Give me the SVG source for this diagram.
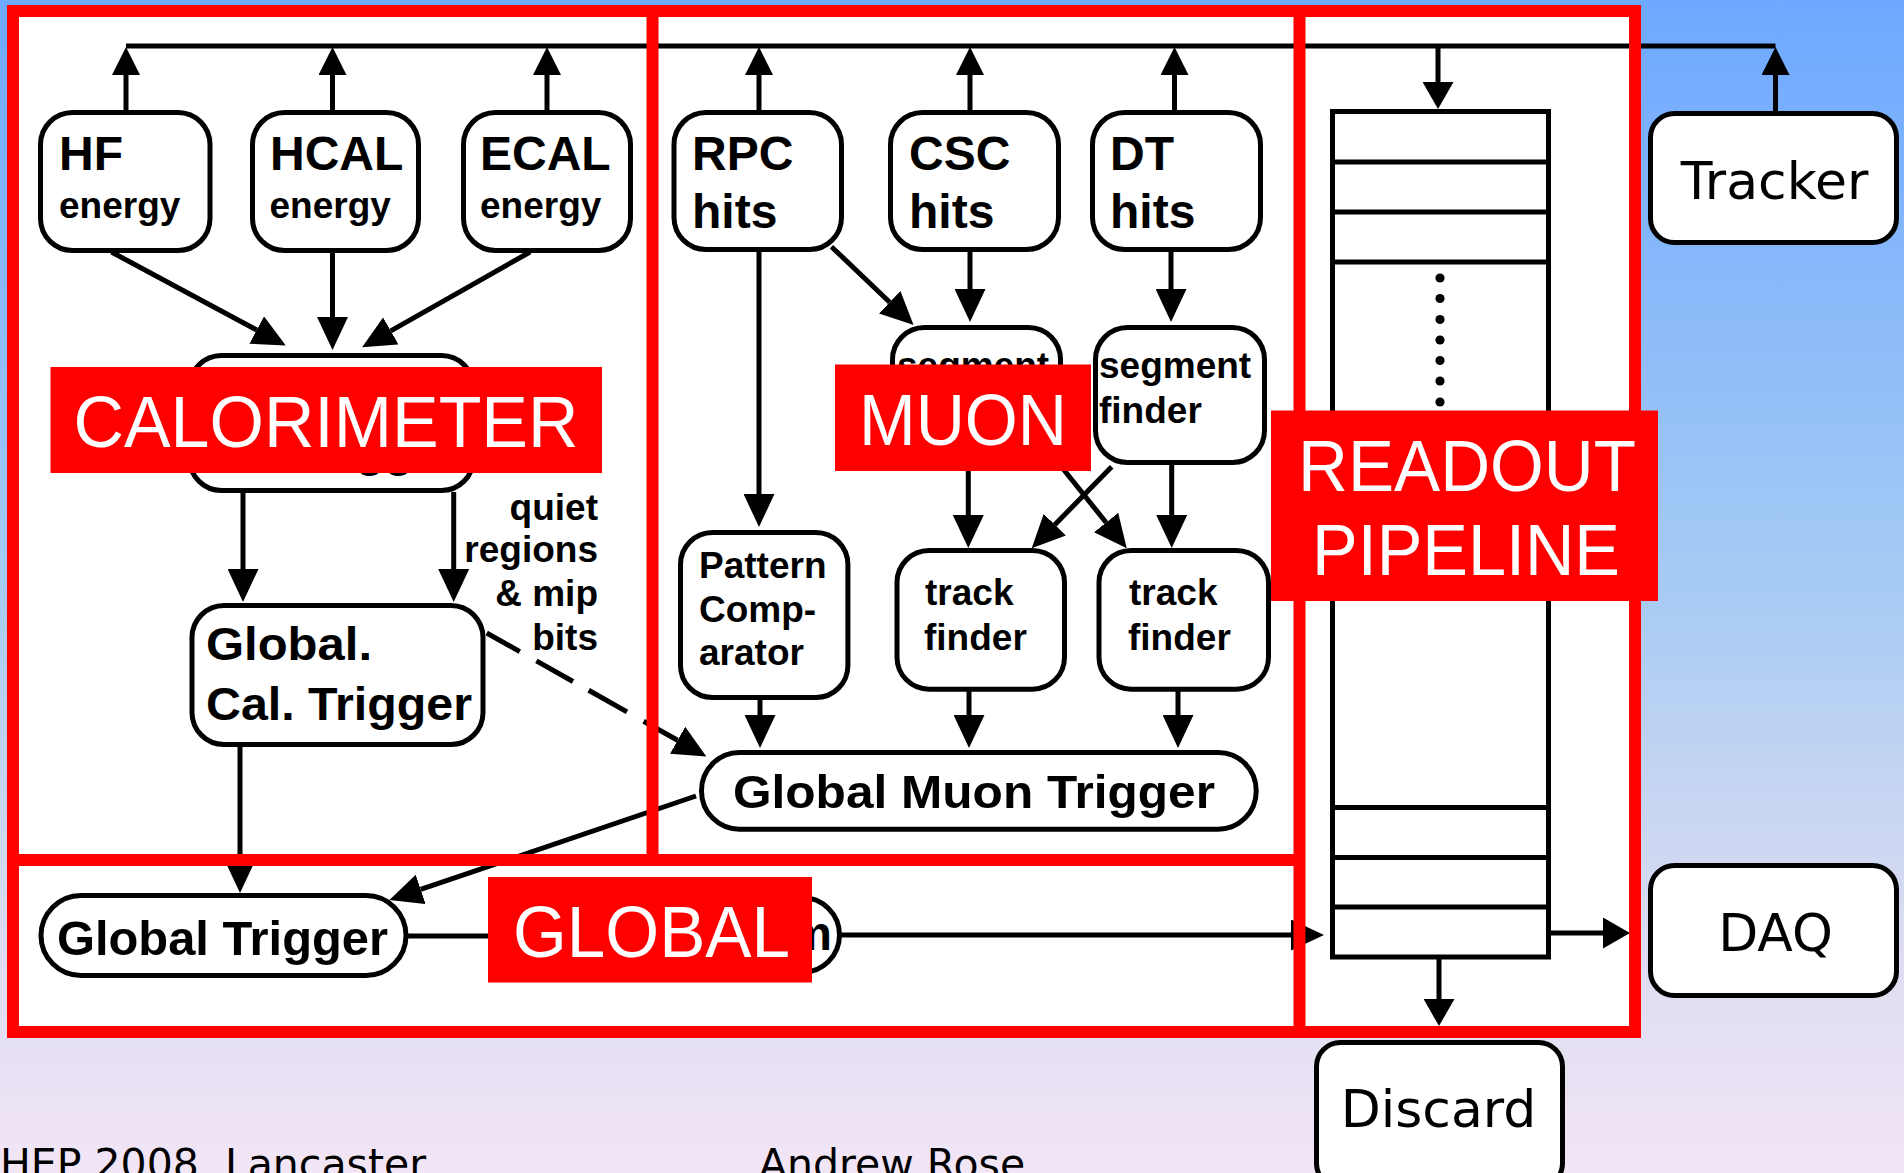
<svg xmlns="http://www.w3.org/2000/svg" width="1904" height="1173" viewBox="0 0 1904 1173">
<defs>
<linearGradient id="bg" x1="0" y1="0" x2="0" y2="1">
<stop offset="0" stop-color="#6ea8ff"/>
<stop offset="0.5" stop-color="#a6cbf4"/>
<stop offset="0.8" stop-color="#dcdcf1"/>
<stop offset="1" stop-color="#f2e5f6"/>
</linearGradient>
<marker id="ah" viewBox="0 0 33 31" refX="0" refY="15.5" markerWidth="33" markerHeight="31" markerUnits="userSpaceOnUse" orient="auto"><path d="M0,0 L33,15.5 L0,31 z" fill="#000"/></marker>
<marker id="ahs" viewBox="0 0 28 28" refX="0" refY="14" markerWidth="28" markerHeight="28" markerUnits="userSpaceOnUse" orient="auto"><path d="M0,0 L28,14 L0,28 z" fill="#000"/></marker>
<marker id="ahr" viewBox="0 0 27 31" refX="0" refY="15.5" markerWidth="27" markerHeight="31" markerUnits="userSpaceOnUse" orient="auto"><path d="M0,0 L27,15.5 L0,31 z" fill="#000"/></marker>
</defs>
<style>
.nd rect{fill:#fff;stroke:#000;stroke-width:5}
.t{font-family:"Liberation Sans",Arial,sans-serif;font-weight:bold;fill:#000}
.b{font-size:48px}
.s{font-size:37px}
.d{font-family:"DejaVu Sans",Verdana,sans-serif;font-size:52px;fill:#000;text-anchor:middle}
#connectors path{stroke:#000;stroke-width:5;fill:none}
.fr{stroke:#ff0000;stroke-width:12;fill:none}
.lb rect{fill:#ff0000}
.lb text{fill:#fff;font-family:"Liberation Sans",Arial,sans-serif;font-size:72px;text-anchor:middle}
.ft{font-family:"DejaVu Sans",Verdana,sans-serif;font-size:41px;fill:#000}
</style>
<rect width="1904" height="1173" fill="url(#bg)"/>
<rect x="13" y="11" width="1622" height="1021" fill="#fff"/>

<g id="connectors">
<path d="M126,46 H1775.5"/>
<path d="M126,112 V75" marker-end="url(#ahs)"/>
<path d="M332.5,112 V75" marker-end="url(#ahs)"/>
<path d="M547,112 V75" marker-end="url(#ahs)"/>
<path d="M759,112 V75" marker-end="url(#ahs)"/>
<path d="M970,112 V75" marker-end="url(#ahs)"/>
<path d="M1174.5,112 V75" marker-end="url(#ahs)"/>
<path d="M1775.5,113 V75" marker-end="url(#ahs)"/>
<path d="M1438,46 V82" marker-end="url(#ahr)"/>
<path d="M111.5,252 L256.7,330" marker-end="url(#ah)"/>
<path d="M332.5,252 V317" marker-end="url(#ah)"/>
<path d="M530,252 L390.8,330.9" marker-end="url(#ah)"/>
<path d="M243,492 V569" marker-end="url(#ah)"/>
<path d="M453.7,492 V569" marker-end="url(#ah)"/>
<path d="M486.7,633 L519.8,651.6 M536.4,660.9 L573,681.5 M588.7,690.3 L627,711.9 M643.6,721.2 L677.6,740.3" marker-end="url(#ah)"/>
<path d="M240,746 V860" marker-end="url(#ah)"/>
<path d="M696,796 L420.7,889.4" marker-end="url(#ah)"/>
<path d="M759,250 V494" marker-end="url(#ah)"/>
<path d="M831.5,246.7 L889.7,302.2" marker-end="url(#ah)"/>
<path d="M970,250 V289" marker-end="url(#ah)"/>
<path d="M1171,250 V289" marker-end="url(#ah)"/>
<path d="M968.3,463 V515" marker-end="url(#ah)"/>
<path d="M1171.7,463 V515" marker-end="url(#ah)"/>
<path d="M1111.7,466.7 L1054.8,524.7" marker-end="url(#ah)"/>
<path d="M1060,465 L1106.1,522.5" marker-end="url(#ah)"/>
<path d="M760,698 V715" marker-end="url(#ah)"/>
<path d="M969,690 V715" marker-end="url(#ah)"/>
<path d="M1178,690 V715" marker-end="url(#ah)"/>
<path d="M406,936 H520"/>
<path d="M840,935 H1291" marker-end="url(#ah)"/>
<path d="M1551,933 H1603" marker-end="url(#ahr)"/>
<path d="M1439,959 V999" marker-end="url(#ahr)"/>
</g>

<g id="hf" class="nd"><rect x="40.5" y="112.5" width="169.5" height="138" rx="32"/><text class="t b" x="59" y="170">HF</text><text class="t s" x="59" y="218">energy</text></g>
<g id="hcal" class="nd"><rect x="252.5" y="112.5" width="166" height="138" rx="32"/><text class="t b" x="270" y="170">HCAL</text><text class="t s" x="269.5" y="218">energy</text></g>
<g id="ecal" class="nd"><rect x="463.5" y="112.5" width="167" height="138" rx="32"/><text class="t b" x="480" y="170">ECAL</text><text class="t s" x="480" y="218">energy</text></g>
<g id="rpc" class="nd"><rect x="674" y="112.5" width="167.5" height="137" rx="32"/><text class="t b" x="692" y="170">RPC</text><text class="t b" x="692" y="228">hits</text></g>
<g id="csc" class="nd"><rect x="890.5" y="112.5" width="168" height="137" rx="32"/><text class="t b" x="909" y="170">CSC</text><text class="t b" x="909" y="228">hits</text></g>
<g id="dt" class="nd"><rect x="1092.5" y="112.5" width="168" height="137" rx="32"/><text class="t b" x="1110" y="170">DT</text><text class="t b" x="1110" y="228">hits</text></g>
<g id="rct" class="nd"><rect x="189.5" y="355.5" width="284" height="135" rx="32"/><text class="t" font-size="47" x="199" y="466">Cal. Trigger</text></g>
<g id="sf1" class="nd"><rect x="892.5" y="327.5" width="168" height="135" rx="32"/><text class="t s" x="897" y="378">segment</text></g>
<g id="sf2" class="nd"><rect x="1095.5" y="327.5" width="169" height="135" rx="32"/><text class="t s" x="1099" y="378">segment</text><text class="t s" x="1099" y="423">finder</text></g>
<g id="pc" class="nd"><rect x="680.5" y="532.5" width="167.4" height="165" rx="32"/><text class="t s" x="699" y="578">Pattern</text><text class="t s" x="699" y="622">Comp-</text><text class="t s" x="699" y="665">arator</text></g>
<g id="tf1" class="nd"><rect x="897" y="550.5" width="167.5" height="138.7" rx="32"/><text class="t s" x="925" y="605">track</text><text class="t s" x="924" y="650">finder</text></g>
<g id="tf2" class="nd"><rect x="1099" y="550.5" width="169.5" height="138.7" rx="32"/><text class="t s" x="1129" y="605">track</text><text class="t s" x="1128" y="650">finder</text></g>
<g id="gct" class="nd"><rect x="192" y="605.5" width="291" height="139" rx="32"/><text class="t" font-size="47" x="206" y="660" textLength="166" lengthAdjust="spacingAndGlyphs">Global.</text><text class="t" font-size="47" x="206" y="720" textLength="266" lengthAdjust="spacingAndGlyphs">Cal. Trigger</text></g>
<g id="quiet"><text class="t s" text-anchor="end" x="598" y="520">quiet</text><text class="t s" text-anchor="end" x="598" y="562">regions</text><text class="t s" text-anchor="end" x="598" y="606">&amp; mip</text><text class="t s" text-anchor="end" x="598" y="650">bits</text></g>
<g id="gmt" class="nd"><rect x="701.5" y="752.5" width="554.7" height="76.7" rx="38"/><text class="t" font-size="47" x="733" y="808" textLength="482" lengthAdjust="spacingAndGlyphs">Global Muon Trigger</text></g>
<g id="gt" class="nd"><rect x="41" y="895.5" width="365" height="80" rx="40"/><text class="t b" x="57" y="955" textLength="331" lengthAdjust="spacingAndGlyphs">Global Trigger</text></g>
<g id="ttc" class="nd"><rect x="517.5" y="897.5" width="322" height="75" rx="37.5"/><text class="t b" text-anchor="end" x="832" y="950">TTC System</text></g>
<g id="pipeline">
<rect x="1332.5" y="111.5" width="216" height="845.5" fill="#fff" stroke="#000" stroke-width="5"/>
<path d="M1332.5,162 H1548.5 M1332.5,212 H1548.5 M1332.5,262 H1548.5 M1332.5,807.5 H1548.5 M1332.5,857.5 H1548.5 M1332.5,907 H1548.5" stroke="#000" stroke-width="5"/>
<g fill="#000"><circle cx="1440" cy="278" r="4.6"/><circle cx="1440" cy="298.5" r="4.6"/><circle cx="1440" cy="319.5" r="4.6"/><circle cx="1440" cy="340" r="4.6"/><circle cx="1440" cy="360.5" r="4.6"/><circle cx="1440" cy="381" r="4.6"/><circle cx="1440" cy="402" r="4.6"/></g>
</g>
<g id="tracker" class="nd"><rect x="1650.5" y="113.5" width="246" height="129" rx="24"/><text class="d" x="1774.5" y="199" font-size="53">Tracker</text></g>
<g id="daq" class="nd"><rect x="1650.5" y="865.5" width="246" height="130" rx="24"/><text class="d" x="1775.5" y="951">DAQ</text></g>
<g id="discard" class="nd"><rect x="1316.5" y="1042.5" width="246" height="145" rx="24"/><text class="d" x="1438.5" y="1127">Discard</text></g>

<g id="frames">
<rect class="fr" x="13" y="11" width="1622" height="1021"/>
<path class="fr" d="M652.5,11 V860 M1299.5,11 V1032 M13,860 H1299.5"/>
</g>
<g id="labels" class="lb">
<rect x="50.5" y="367" width="551.5" height="106"/><text x="326" y="447" textLength="505" lengthAdjust="spacingAndGlyphs">CALORIMETER</text>
<rect x="835" y="364.5" width="256" height="106.5"/><text x="963" y="445" textLength="208" lengthAdjust="spacingAndGlyphs">MUON</text>
<rect x="1271" y="410.5" width="387" height="190.5"/><text x="1467" y="491" textLength="338" lengthAdjust="spacingAndGlyphs">READOUT</text><text x="1466" y="575" textLength="308" lengthAdjust="spacingAndGlyphs">PIPELINE</text>
<rect x="488" y="877" width="324" height="105.5"/><text x="651.5" y="957" textLength="277" lengthAdjust="spacingAndGlyphs">GLOBAL</text>
</g>
<g id="footer"><text class="ft" x="0" y="1178">HEP 2008, Lancaster</text><text class="ft" x="759" y="1178">Andrew Rose</text></g>
</svg>
